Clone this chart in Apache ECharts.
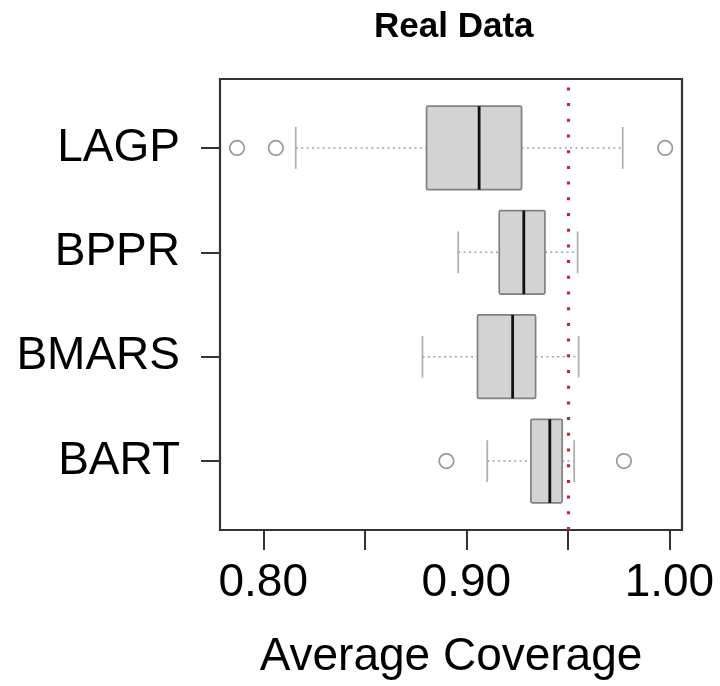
<!DOCTYPE html>
<html>
<head>
<meta charset="utf-8">
<script src="https://cdn.jsdelivr.net/npm/echarts@6/dist/echarts.min.js"></script>
<style>
  html, body { margin: 0; padding: 0; background: #fff; }
  #chart { width: 720px; height: 686px; }
</style>
</head>
<body>
<div id="chart"></div>
<script>
// Methods, listed bottom to top (position 1 = bottom row)
const methods = ['BART', 'BMARS', 'BPPR', 'LAGP'];

// Five-number summaries of average coverage per method
const whiskerLow  = [0.9103, 0.8784, 0.8960, 0.8160];
const quartile1   = [0.9318, 0.9055, 0.9162, 0.8804];
const medians     = [0.9411, 0.9228, 0.9283, 0.9063];
const quartile3   = [0.9472, 0.9341, 0.9387, 0.9272];
const whiskerHigh = [0.9531, 0.9553, 0.9548, 0.9770];

// Points beyond the whiskers: [method, coverage]
const outlierMethods = ['BART', 'BART', 'LAGP', 'LAGP', 'LAGP'];
const outlierValues  = [0.8902, 0.9776, 0.7871, 0.8062, 0.9979];

// Nominal coverage level
const nominalLevel = 0.95;

// Axis ticks and labels
const xTicks = [0.80, 0.85, 0.90, 0.95, 1.00];
const xLabels = [0.80, 0.90, 1.00];

const FONT = 'Liberation Sans, Arial, Helvetica, sans-serif';
const BOX_HALF = 0.4;   // half box height, in row units
const CAP_HALF = 0.2;   // half whisker-cap length, in row units

const boxData = methods.map((m, i) => [
  i + 1, whiskerLow[i], quartile1[i], medians[i], quartile3[i], whiskerHigh[i]
]);
const outlierData = outlierValues.map((v, i) => [v, methods.indexOf(outlierMethods[i]) + 1]);

function renderBox(params, api) {
  const y = api.value(0);
  const lo = api.coord([api.value(1), y]);
  const q1 = api.coord([api.value(2), y]);
  const md = api.coord([api.value(3), y]);
  const q3 = api.coord([api.value(4), y]);
  const hi = api.coord([api.value(5), y]);
  const half = api.size([0, BOX_HALF])[1];
  const cap = api.size([0, CAP_HALF])[1];
  const cy = lo[1];
  const whiskerStyle = { stroke: '#a0a0a0', lineWidth: 1.5, lineDash: [2, 3.4] };
  const capStyle = { stroke: '#b0b0b0', lineWidth: 1.8 };
  return {
    type: 'group',
    children: [
      { type: 'line', shape: { x1: lo[0], y1: cy, x2: q1[0], y2: cy }, style: whiskerStyle },
      { type: 'line', shape: { x1: q3[0], y1: cy, x2: hi[0], y2: cy }, style: whiskerStyle },
      { type: 'line', shape: { x1: lo[0], y1: cy - cap, x2: lo[0], y2: cy + cap }, style: capStyle },
      { type: 'line', shape: { x1: hi[0], y1: cy - cap, x2: hi[0], y2: cy + cap }, style: capStyle },
      {
        type: 'rect',
        shape: { x: q1[0], y: cy - half, width: q3[0] - q1[0], height: 2 * half, r: 1.5 },
        style: { fill: '#d3d3d3', stroke: '#808080', lineWidth: 1.7 }
      },
      { type: 'line', shape: { x1: md[0], y1: cy - half, x2: md[0], y2: cy + half },
        style: { stroke: '#111', lineWidth: 2.8 } }
    ]
  };
}

const chart = echarts.init(document.getElementById('chart'), null, { renderer: 'canvas' });
chart.setOption({
  backgroundColor: '#fff',
  animation: false,
  title: {
    text: 'Real Data',
    left: 369,
    top: 5,
    textStyle: { fontFamily: FONT, fontWeight: 'bold', fontSize: 35, lineHeight: 35, color: '#000' }
  },
  grid: {
    left: 220, right: 38, top: 79, bottom: 156,
    show: true, borderColor: '#333', borderWidth: 2.2, backgroundColor: 'transparent'
  },
  xAxis: {
    type: 'value',
    min: 0.7787, max: 1.0062,
    name: 'Average Coverage',
    nameLocation: 'middle',
    nameGap: 104,
    nameTextStyle: { fontFamily: FONT, fontSize: 46, lineHeight: 46, color: '#000' },
    axisLine: { show: false },
    splitLine: { show: false },
    axisTick: { show: true, length: 20, lineStyle: { color: '#333', width: 2 }, customValues: xTicks },
    axisLabel: {
      customValues: xLabels,
      margin: 30,
      fontFamily: FONT, fontSize: 46, lineHeight: 46, color: '#000',
      formatter: v => v.toFixed(2)
    }
  },
  yAxis: {
    type: 'value',
    min: 0.34, max: 4.66,
    axisLine: { show: false },
    splitLine: { show: false },
    axisTick: { show: true, length: 19, lineStyle: { color: '#333', width: 2 }, customValues: [1, 2, 3, 4] },
    axisLabel: {
      customValues: [1, 2, 3, 4],
      margin: 40,
      fontFamily: FONT, fontSize: 46, lineHeight: 46, color: '#000',
      formatter: v => methods[Math.round(v) - 1]
    }
  },
  series: [
    {
      type: 'custom',
      renderItem: renderBox,
      data: boxData,
      encode: { y: 0, x: [1, 2, 3, 4, 5] },
      z: 2
    },
    {
      type: 'scatter',
      data: outlierData,
      symbol: 'circle',
      symbolSize: 14.5,
      itemStyle: { color: '#fff', borderColor: '#808080', borderWidth: 1.7 },
      z: 3,
      markLine: {
        silent: true,
        symbol: ['none', 'none'],
        label: { show: false },
        lineStyle: { color: '#b03030', width: 3.2, type: [3, 12.7], cap: 'butt' },
        data: [{ xAxis: nominalLevel }],
        z: 5
      }
    }
  ]
});
</script>
</body>
</html>
